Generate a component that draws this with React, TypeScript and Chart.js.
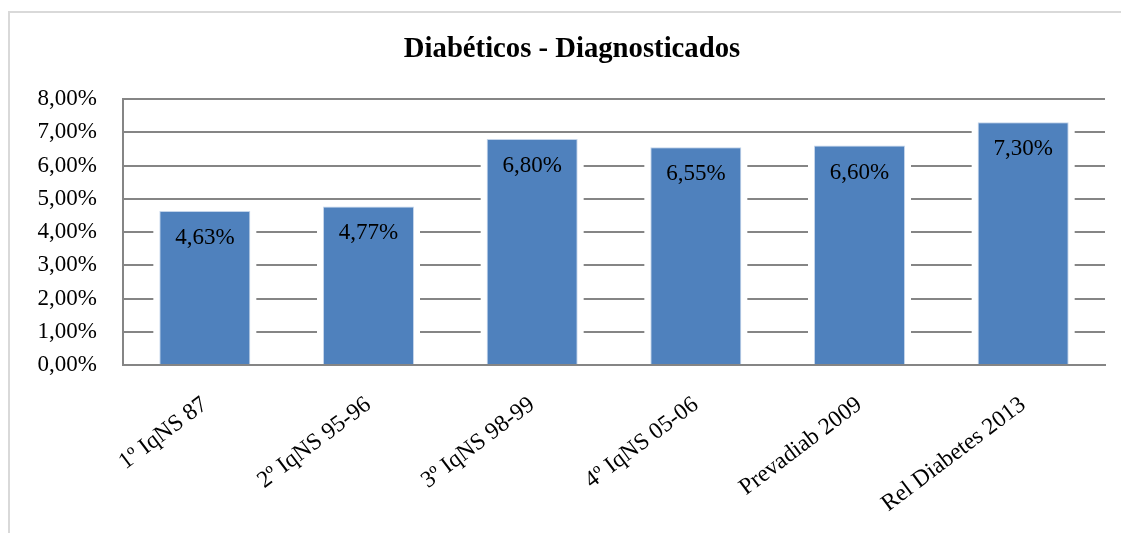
import { useEffect, useRef } from 'react';
import { Chart, registerables } from 'chart.js';

Chart.register(...registerables);

const chartTitle = 'Diabéticos - Diagnosticados';
const categories = [
  '1º IqNS 87',
  '2º IqNS 95-96',
  '3º IqNS 98-99',
  '4º IqNS 05-06',
  'Prevadiab 2009',
  'Rel Diabetes 2013',
];
const diagnosedPct = [4.63, 4.77, 6.8, 6.55, 6.6, 7.3];
const yMin = 0;
const yMax = 8;
const yStep = 1;

const SERIF = '"Liberation Serif", "Times New Roman", serif';
const GRID = '#858585';
const BAR = '#4f81bd';

const fmtPct = (v: number) => v.toFixed(2).replace('.', ',') + '%';

// Outer frame lines and the chart heading
const framePlugin = {
  id: 'frameAndHeading',
  beforeDraw(chart: any) {
    const { ctx, width, height } = chart;
    ctx.save();
    ctx.fillStyle = '#ffffff';
    ctx.fillRect(0, 0, width, height);
    ctx.strokeStyle = '#d9d9d9';
    ctx.lineWidth = 2;
    ctx.beginPath();
    ctx.moveTo(9, height);
    ctx.lineTo(9, 12);
    ctx.lineTo(width, 12);
    ctx.stroke();
    ctx.fillStyle = '#000000';
    ctx.font = `bold 28.7px ${SERIF}`;
    ctx.textAlign = 'center';
    ctx.textBaseline = 'middle';
    ctx.fillText(chartTitle, 572, 50);
    ctx.restore();
  },
};

// White glow around each bar that interrupts the gridlines
const haloPlugin = {
  id: 'barHalo',
  beforeDatasetsDraw(chart: any) {
    const { ctx } = chart;
    const meta = chart.getDatasetMeta(0);
    ctx.save();
    ctx.fillStyle = '#ffffff';
    meta.data.forEach((bar: any) => {
      const { x, y, width, base } = bar.getProps(['x', 'y', 'width', 'base'], true);
      ctx.fillRect(x - width / 2 - 6, y - 3, width + 12, base - y + 1);
    });
    ctx.restore();
  },
};

// Value labels printed inside the top of each bar
const valueLabelPlugin = {
  id: 'valueLabels',
  afterDatasetsDraw(chart: any) {
    const { ctx } = chart;
    const meta = chart.getDatasetMeta(0);
    const values = chart.data.datasets[0].data as number[];
    ctx.save();
    ctx.fillStyle = '#000000';
    ctx.font = `23px ${SERIF}`;
    ctx.textAlign = 'center';
    ctx.textBaseline = 'middle';
    meta.data.forEach((bar: any, i: number) => {
      const { x, y } = bar.getProps(['x', 'y'], true);
      ctx.fillText(fmtPct(values[i]), x, y + 27);
    });
    ctx.restore();
  },
};

export default function App() {
  const canvasRef = useRef<HTMLCanvasElement | null>(null);

  useEffect(() => {
    if (!canvasRef.current) return;
    const chart = new Chart(canvasRef.current, {
      type: 'bar',
      data: {
        labels: categories,
        datasets: [
          {
            data: diagnosedPct,
            backgroundColor: BAR,
            borderColor: '#c3d4ea',
            borderWidth: 1,
            barPercentage: 0.556,
            categoryPercentage: 1,
          },
        ],
      },
      options: {
        animation: false,
        responsive: true,
        maintainAspectRatio: false,
        layout: { padding: { top: 99, right: 16, left: 0, bottom: 0 } },
        plugins: {
          legend: { display: false },
          title: { display: false },
          tooltip: { enabled: false },
        },
        scales: {
          x: {
            grid: { display: false },
            border: { display: true, color: GRID, width: 2 },
            ticks: {
              autoSkip: false,
              minRotation: 37,
              maxRotation: 37,
              padding: 18,
              color: '#000000',
              font: { family: SERIF, size: 23.5 },
            },
            afterFit: (scale: any) => {
              scale.height = 168;
            },
          },
          y: {
            min: yMin,
            max: yMax,
            ticks: {
              stepSize: yStep,
              padding: 26,
              color: '#000000',
              font: { family: SERIF, size: 23 },
              callback: (v: any) => fmtPct(Number(v)),
            },
            grid: { color: GRID, lineWidth: 2, drawTicks: false },
            border: { display: true, color: GRID, width: 2 },
            afterFit: (scale: any) => {
              scale.width = 123;
            },
          },
        },
      },
      plugins: [framePlugin, haloPlugin, valueLabelPlugin],
    });
    return () => chart.destroy();
  }, []);

  return (
    <div style={{ position: 'fixed', left: 0, top: 0, width: 1121, height: 533, background: '#fff' }}>
      <canvas ref={canvasRef} />
    </div>
  );
}
